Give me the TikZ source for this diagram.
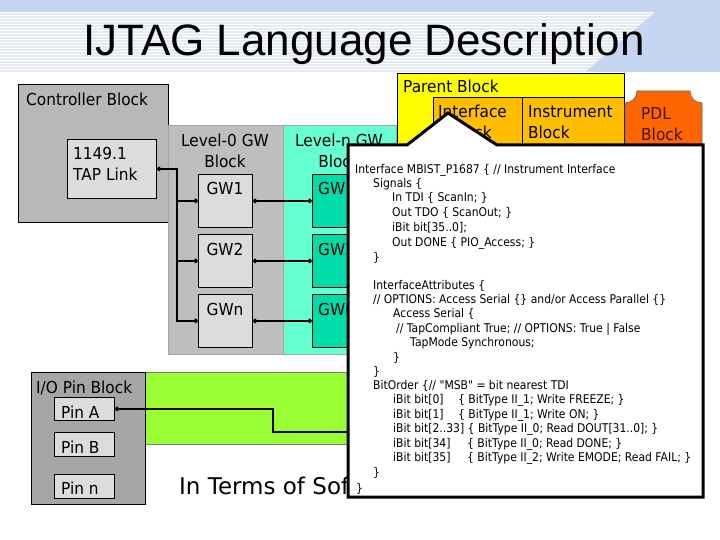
\documentclass[tikz,border=0pt]{standalone}
\usepackage{fontspec}
\setmainfont{DejaVu Sans}
\newfontfamily\lblfont{DejaVu Sans}[FakeStretch=0.93]
\newfontfamily\codefont{DejaVu Sans}[FakeStretch=0.9]
\newfontfamily\titlefont{Liberation Sans}
\usetikzlibrary{arrows.meta}
\definecolor{bandblue}{HTML}{C6D6F2}
\definecolor{stripecol}{HTML}{E4E9F2}
\definecolor{ctrlgray}{HTML}{B8B8B8}
\definecolor{lvlgray}{HTML}{BEBEBE}
\definecolor{boxgray}{HTML}{DCDCDC}
\definecolor{iogray}{HTML}{A6A6A6}
\definecolor{aqua}{HTML}{66FFD2}
\definecolor{aquadark}{HTML}{00DDAA}
\definecolor{limegreen}{HTML}{99FF33}
\definecolor{parentyellow}{HTML}{FFFF00}
\definecolor{instorange}{HTML}{FFBE00}
\definecolor{pdlorange}{HTML}{FF6600}
\definecolor{pdltext}{HTML}{3A1500}
\tikzset{
  blk/.style={rectangle, draw=black, line width=0.8pt, inner sep=0pt, anchor=north west},
  lbl/.style={font=\lblfont\fontsize{16.5}{19}\selectfont, inner sep=0pt, anchor=base west},
  lblc/.style={lbl, anchor=base},
  code/.style={font=\codefont\fontsize{12}{14}\selectfont, inner sep=0pt, anchor=base west},
  wire/.style={line width=1.6pt, black},
  dotend/.style={-{Circle[length=4.5pt]}},
  dotboth/.style={{Circle[length=4.5pt]}-{Circle[length=4.5pt]}},
  dotstart/.style={{Circle[length=4.5pt]}-},
}
\begin{document}
\begin{tikzpicture}[x=1pt,y=-1pt]
\useasboundingbox (0,0) rectangle (720,540);
\fill[white] (0,0) rectangle (720,540);
% title band
\fill[bandblue] (0,0) -- (720,0) -- (720,72) -- (585,72) -- (655,12) -- (0,12) -- cycle;
\foreach \yy in {14,17,...,71} {
  \pgfmathsetmacro\xe{655-(\yy-12)*70/60}
  \draw[stripecol, line width=1.3pt] (0,\yy) -- (\xe,\yy);
}
\node[font=\titlefont\fontsize{44}{50}\selectfont, anchor=base, inner sep=0pt] (title) at (364,56) {IJTAG Language Description};

% controller block
\node[blk, fill=ctrlgray, minimum width=150pt, minimum height=138pt] (ctrl) at (18,84) {};
\node[lbl] (ctrlT) at (26,106) {Controller Block};
\node[blk, fill=boxgray, minimum width=89pt, minimum height=59pt] (tap) at (67,139) {};
\node[lbl] (tapT1) at (73,160) {1149.1};
\node[lbl] (tapT2) at (73,181) {TAP Link};

% level-0 block
\node[blk, draw=black!35, fill=lvlgray, minimum width=115pt, minimum height=229pt] (lvl0) at (168,125) {};
\node[lblc] (lvl0T1) at (225,147) {Level-0 GW};
\node[lblc] (lvl0T2) at (225,168) {Block};
% level-n block
\node[blk, draw=black!35, fill=aqua, minimum width=113pt, minimum height=229pt] (lvln) at (283,125) {};
\node[lblc] (lvlnT1) at (339,147) {Level-n GW};
\node[lblc] (lvlnT2) at (339,168) {Block};

% GW boxes
\node[blk, fill=boxgray, minimum width=54pt, minimum height=53pt] (gw1) at (198,174) {};
\node[blk, fill=boxgray, minimum width=54pt, minimum height=53pt] (gw2) at (198,234) {};
\node[blk, fill=boxgray, minimum width=54pt, minimum height=53pt] (gwn) at (198,294) {};
\node[lblc] (gw1T) at (225,195) {GW1};
\node[lblc] (gw2T) at (225,255) {GW2};
\node[lblc] (gwnT) at (225,315) {GWn};
\node[blk, fill=aquadark, minimum width=70pt, minimum height=53pt] (lgw1) at (312,174) {};
\node[blk, fill=aquadark, minimum width=70pt, minimum height=53pt] (lgw2) at (312,234) {};
\node[blk, fill=aquadark, minimum width=70pt, minimum height=53pt] (lgwn) at (312,294) {};
\node[lbl] (lgw1T) at (318,195) {GW1};
\node[lbl] (lgw2T) at (318,255) {GW2};
\node[lbl] (lgwnT) at (318,315) {GWn};

% wires
\coordinate (busx) at (177,0);
\draw[wire, dotboth] (tap.east) -| (busx |- gwn.west) -- (gwn.west);
\draw[wire, dotend] (busx |- gw1.west) -- (gw1.west);
\draw[wire, dotend] (busx |- gw2.west) -- (gw2.west);
\draw[wire, dotboth] (gw1.east) -- (lgw1.west);
\draw[wire, dotboth] (gw2.east) -- (lgw2.west);
\draw[wire, dotboth] (gwn.east) -- (lgwn.west);

% parent block
\node[blk, fill=parentyellow, minimum width=227pt, minimum height=90pt] (parent) at (397,73) {};
\node[lbl] (parentT) at (403,93) {Parent Block};
\node[blk, fill=instorange, minimum width=89pt, minimum height=66pt] (iface) at (433,97) {};
\node[lbl] (ifaceT1) at (438,118) {Interface};
\node[lbl] (ifaceT2) at (450,139) {Block};
\node[blk, fill=instorange, minimum width=102pt, minimum height=66pt] (instr) at (522,97) {};
\node[lbl] (instrT1) at (528,118) {Instrument};
\node[lbl] (instrT2) at (528,139) {Block};
% PDL block
\draw[draw=black!60, line width=0.6pt, fill=pdlorange] (625,165) -- (625,103)
  .. controls (631.6,103) and (637,97.6) .. (637,91) -- (690,91)
  .. controls (690,97.6) and (695.4,103) .. (702,103) -- (702,165) -- cycle;
\node[lbl, text=pdltext] (pdlT1) at (641,120) {PDL};
\node[lbl, text=pdltext] (pdlT2) at (641,141) {Block};

% I/O pin block
\node[blk, fill=limegreen, draw=black!50, line width=0.6pt, minimum width=220pt, minimum height=72pt] (band) at (145,372) {};
\node[blk, fill=iogray, minimum width=114pt, minimum height=132pt] (io) at (31,372) {};
\node[lbl] (ioT) at (36,393) {I/O Pin Block};
\node[blk, fill=boxgray, minimum width=60pt, minimum height=23pt] (pina) at (54,397) {};
\node[blk, fill=boxgray, minimum width=60pt, minimum height=24pt] (pinb) at (54,432) {};
\node[blk, fill=boxgray, minimum width=60pt, minimum height=24pt] (pinn) at (54,474) {};
\node[lbl] (pinaT) at (61,418) {Pin A};
\node[lbl] (pinbT) at (61,453) {Pin B};
\node[lbl] (pinnT) at (61,494) {Pin n};
\coordinate (pinx) at (273,0);
\coordinate (pinend) at (350,432);
\draw[wire, dotstart] (pina.east) -| (pinx |- pinend) -- (pinend);

\begin{scope}
\clip (170,460) rectangle (347,510);
\node[font=\fontsize{23}{27}\selectfont, inner sep=0pt, anchor=base west] (soft) at (179,494) {In Terms of Sof};
\end{scope}

% callout
\draw[line width=3pt, fill=white, line join=miter] (348,145) -- (407,145) -- (448,113) -- (497,145) -- (703,145) -- (703,497) -- (348,497) -- cycle;

\node[code] (c1) at (355,174) {Interface MBIST\_P1687 \{ // Instrument Interface};
\node[code] (c2) at (373,188) {Signals \{};
\node[code] (c3) at (392,202) {In TDI \{ ScanIn; \}};
\node[code] (c4) at (392,217) {Out TDO \{ ScanOut; \}};
\node[code] (c5) at (392,231) {iBit bit[35..0];};
\node[code] (c6) at (392,246) {Out DONE \{ PIO\_Access; \}};
\node[code] (c7) at (373,261) {\}};
\node[code] (c8) at (373,289) {InterfaceAttributes \{};
\node[code] (c9) at (373,303) {// OPTIONS: Access Serial \{\} and/or Access Parallel \{\}};
\node[code] (c10) at (393,317) {Access Serial \{};
\node[code] (c11) at (396,332) {// TapCompliant True; // OPTIONS: True | False};
\node[code] (c12) at (410,346) {TapMode Synchronous;};
\node[code] (c13) at (393,361) {\}};
\node[code] (c14) at (373,375) {\}};
\node[code] (c15) at (373,389) {BitOrder \{// "MSB" = bit nearest TDI};
\node[code] (c16a) at (393,403) {iBit bit[0]};
\node[code] (c16b) at (458,403) {\{ BitType II\_1; Write FREEZE; \}};
\node[code] (c17a) at (393,418) {iBit bit[1]};
\node[code] (c17b) at (458,418) {\{ BitType II\_1; Write ON; \}};
\node[code] (c18) at (393,432) {iBit bit[2..33] \{ BitType II\_0; Read DOUT[31..0]; \}};
\node[code] (c19a) at (393,447) {iBit bit[34]};
\node[code] (c19b) at (467,447) {\{ BitType II\_0; Read DONE; \}};
\node[code] (c20a) at (393,461) {iBit bit[35]};
\node[code] (c20b) at (467,461) {\{ BitType II\_2; Write EMODE; Read FAIL; \}};
\node[code] (c21) at (373,476) {\}};
\node[code] (c22) at (356,492) {\}};
\end{tikzpicture}
\end{document}
